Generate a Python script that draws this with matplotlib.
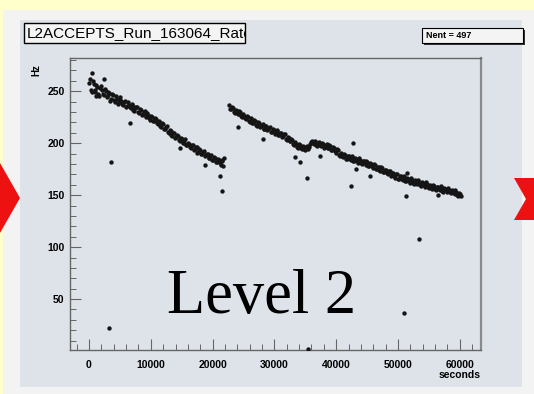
import matplotlib.pyplot as plt
import matplotlib.patches as mpatches
from matplotlib.ticker import MultipleLocator

# ---- data (seconds, Hz) ----
# first fill: before the gap
x_fill1 = [0, 300, 600, 900, 1200, 1500, 1800, 2100, 2400, 2700, 3000, 3300, 3600, 3900,
           4200, 4500, 4800, 5100, 5400, 5700, 6000, 6300, 6600, 6900, 7200, 7500, 7800,
           8100, 8400, 8700, 9000, 9300, 9600, 9900, 10200, 10500, 10800, 11100, 11400,
           11700, 12000, 12300, 12600, 12900, 13200, 13500, 13800, 14100, 14400, 14700,
           15000, 15300, 15600, 15900, 16200, 16500, 16800, 17100, 17400, 17700, 18000,
           18300, 18600, 18900, 19200, 19500, 19800, 20100, 20400, 20700, 21000, 21300,
           21600, 21900]
y_fill1 = [258, 251, 260, 251, 256, 247, 253, 251, 246, 250, 246, 248, 243, 246,
           240, 243, 240, 244, 238, 240, 235, 240, 235, 238, 232, 234, 235,
           229, 232, 228, 231, 225, 227, 222, 225.5, 221.5, 223.5, 218.5, 220,
           216, 218.6, 214, 216.7, 210.3, 212, 206.5, 210, 205.6, 207.4, 202.2,
           204, 199.9, 203.7, 198.5, 199.3, 195, 198, 194.1, 196.1, 191.1, 193.2,
           189.2, 192.2, 188.2, 189.2, 185.3, 188.4, 183.5, 185.6, 181.7, 183.8, 179,
           183.3, 185.5]
x_fill1b = [150, 450, 750, 1050, 1350, 1650, 1950, 2250, 2550, 2850, 3150, 3450, 3750,
            4050, 4350, 4650, 4950, 5250, 5550, 5850, 6150, 6450, 6750, 7050, 7350, 7650,
            7950, 8250, 8550, 8850, 9150, 9450, 9750, 10050, 10350, 10650, 10950, 11250,
            11550, 11850, 12150, 12450, 12750, 13050, 13350, 13650, 13950, 14250, 14550,
            14850, 15150, 15450, 15750, 16050, 16350, 16650, 16950, 17250, 17550, 17850,
            18150, 18450, 18750, 19050, 19350, 19650, 19950, 20250, 20550, 20850, 21150,
            21450, 21750]
y_fill1b = [262, 249, 257, 249, 254, 245, 255, 247, 252, 244, 249, 241, 247,
            242, 245, 238, 242, 241, 237, 241, 236, 237, 234, 236, 231, 235,
            230, 233, 227, 230, 226, 229, 224, 226, 221, 224, 219, 221,
            217, 219, 214, 216, 211, 213, 208, 210, 205, 208, 203,
            205, 200, 203, 198, 200, 196, 198, 193, 196, 191, 194,
            190, 192, 188, 190, 186, 188, 184, 187, 182, 185, 181,
            184, 178]

# second fill: after the gap
x_fill2 = [22700, 23000, 23300, 23600, 23900, 24200, 24500, 24800, 25100, 25400, 25700,
           26000, 26300, 26600, 26900, 27200, 27500, 27800, 28100, 28400, 28700, 29000,
           29300, 29600, 29900, 30200, 30500, 30800, 31100, 31400, 31700, 32000, 32300,
           32600, 32900, 33200, 33500, 33800, 34100, 34400, 34700, 35000, 35300, 35600,
           35900, 36200, 36500, 36800, 37100, 37400, 37700, 38000, 38300, 38600, 38900,
           39200, 39500, 39800, 40100, 40400, 40700, 41000, 41300, 41600, 41900, 42200,
           42500, 42800, 43100, 43400, 43700, 44000, 44300, 44600, 44900, 45200, 45500,
           45800, 46100, 46400, 46700, 47000, 47300, 47600, 47900, 48200, 48500, 48800,
           49100, 49400, 49700, 50000, 50300, 50600, 50900, 51200, 51500, 51800, 52100,
           52400, 52700, 53000, 53300, 53600, 53900, 54200, 54500, 54800, 55100, 55400,
           55700, 56000, 56300, 56600, 56900, 57200, 57500, 57800, 58100, 58400, 58700,
           59000, 59300, 59600, 59900, 60200]
y_fill2 = [237, 232.5, 234, 229, 231, 228, 230, 225, 226.5, 223.5, 225,
           220, 222.4, 219.6, 221.8, 217, 219.3, 216.5, 218.7, 214, 216.3, 213.5,
           215.7, 210.8, 213, 210.2, 212.4, 207.6, 209.8, 207, 208.7, 203.4, 205,
           201.8, 203.4, 198, 199.7, 195.4, 198, 194.8, 196.5, 193.3, 197, 196,
           201, 200, 202.5, 198, 200.5, 198, 200.4, 195.8, 198.3, 195.7, 198.1,
           193.6, 196, 192.7, 194.4, 189, 190.7, 187.4, 189.6, 185, 187.5, 185,
           187.5, 183, 185.5, 182.9, 185.4, 180.8, 183.3, 180.7, 183.2, 178.5, 180.7,
           177.8, 180, 175.2, 177.4, 174.6, 176.8, 172, 174.2, 171.4, 173.7, 168.9,
           171.1, 168.3, 170.6, 165.8, 168, 165.6, 168.1, 163.7, 166.3, 163.9, 166.4,
           162, 164.6, 162.2, 164.6, 160, 162.5, 159.9, 162.3, 157.8, 160.2, 157.6,
           160, 155.7, 158.3, 156, 158.7, 154.3, 157, 154.7, 157.3, 153, 155.2,
           152.5, 154.7, 150, 152.2, 149.5]
x_fill2b = [22850, 23150, 23450, 23750, 24050, 24350, 24650, 24950, 25250, 25550,
            25850, 26150, 26450, 26750, 27050, 27350, 27650, 27950, 28250, 28550,
            28850, 29150, 29450, 29750, 30050, 30350, 30650, 30950, 31250, 31550,
            31850, 32150, 32450, 32750, 33050, 33350, 33650, 33950, 34250, 34550,
            34850, 35150, 35450, 35750, 36050, 36350, 36650, 36950, 37250, 37550,
            37850, 38150, 38450, 38750, 39050, 39350, 39650, 39950, 40250, 40550,
            40850, 41150, 41450, 41750, 42050, 42350, 42650, 42950, 43250, 43550,
            43850, 44150, 44450, 44750, 45050, 45350, 45650, 45950, 46250, 46550,
            46850, 47150, 47450, 47750, 48050, 48350, 48650, 48950, 49250, 49550,
            49850, 50150, 50450, 50750, 51050, 51350, 51650, 51950, 52250, 52550,
            52850, 53150, 53450, 53750, 54050, 54350, 54650, 54950, 55250, 55550,
            55850, 56150, 56450, 56750, 57050, 57350, 57650, 57950, 58250, 58550,
            58850, 59150, 59450, 59750, 60050]
y_fill2b = [233, 235, 230, 232, 228, 231, 226, 228, 224, 226,
            221, 224, 219, 222, 218, 220, 216, 218, 214, 217,
            213, 215, 211, 214, 209, 212, 208, 210, 206, 209,
            204, 206, 202, 204, 199, 201, 196, 199, 195, 197,
            194, 196, 194, 199, 202, 199, 201, 197, 201, 197,
            199, 196, 199, 195, 197, 193, 195, 191, 193, 188,
            190, 187, 189, 185, 188, 184, 186, 183, 185, 181,
            184, 180, 183, 179, 182, 178, 180, 176, 179, 175,
            177, 173, 176, 172, 174, 170, 173, 169, 171, 167,
            170, 166, 168, 165, 167, 164, 166, 162, 165, 161,
            164, 161, 163, 159, 162, 158, 161, 157, 159, 156,
            159, 155, 158, 155, 157, 153, 156, 153, 155, 152,
            154, 151, 153, 149, 151]

# stray points away from the band
x_odd = [3240, 35400, 50950, 53400, 3500, 21550, 21200, 14750, 6650, 24100, 28200,
         33300, 34200, 35200, 37300, 42400, 42800, 43200, 45400, 51300, 56500, 51500,
         18770, 500, 2400, 1200]
y_odd = [22, 2, 37, 108, 182, 154, 168, 195, 219, 216, 204,
         187, 182, 167, 188, 159, 200, 175, 168, 149, 150, 171,
         179, 268, 262, 245]

hist_title = "L2ACCEPTS_Run_163064_Rate"
stat_text = "Nent = 497"

W, H = 534, 394
fig = plt.figure(figsize=(W / 100, H / 100), dpi=100)
fig.patch.set_facecolor("#ffffcc")


def fx(px):
    return px / W


def fy(py):
    return 1 - py / H


def box(x0, y0, x1, y1, **kw):
    # rectangle given in picture pixels (top-left origin)
    r = mpatches.Rectangle((fx(x0), fy(y1)), fx(x1) - fx(x0), fy(y0) - fy(y1),
                           transform=fig.transFigure, **kw)
    fig.patches.append(r)
    return r


# slide panels
box(3, 10, 534, 394, facecolor="#f3f3f3", edgecolor="none", zorder=-2)
box(20, 20, 522, 387, facecolor="#dde3e9", edgecolor="none", zorder=-1)

# red arrows at the sides
left_arrow = mpatches.Polygon([(fx(0), fy(163)), (fx(20), fy(198)), (fx(0), fy(233))],
                              closed=True, transform=fig.transFigure,
                              facecolor="#ee1111", edgecolor="none", zorder=1)
right_arrow = mpatches.Polygon([(fx(514), fy(178)), (fx(534), fy(178)), (fx(534), fy(220)),
                                (fx(514), fy(220)), (fx(526), fy(199))],
                               closed=True, transform=fig.transFigure,
                               facecolor="#ee1111", edgecolor="none", zorder=1)
fig.patches.extend([left_arrow, right_arrow])

# plot frame
ax = fig.add_axes([fx(70), fy(350), fx(481) - fx(70), fy(58) - fy(350)])
ax.set_zorder(2)
ax.set_facecolor("#dde3e9")
for xs, ys in [(x_fill1, y_fill1), (x_fill1b, y_fill1b), (x_fill2, y_fill2),
               (x_fill2b, y_fill2b), (x_odd, y_odd)]:
    ax.scatter(xs, ys, s=10, color="#151515", linewidths=0, zorder=3)

ax.set_xlim(-3070, 63430)
ax.set_ylim(1, 282)
ax.xaxis.set_major_locator(MultipleLocator(10000))
ax.xaxis.set_minor_locator(MultipleLocator(2000))
ax.yaxis.set_major_locator(MultipleLocator(50))
ax.yaxis.set_minor_locator(MultipleLocator(10))
ax.tick_params(which="major", direction="in", length=8, width=0.8, color="#666666",
               labelsize=7.5, pad=4)
ax.tick_params(axis="x", which="major", pad=7)
ax.tick_params(which="minor", direction="in", length=4, width=0.7, color="#666666")
for lab in ax.get_xticklabels() + ax.get_yticklabels():
    lab.set_fontfamily("Liberation Sans")
    lab.set_fontweight("bold")
for sp in ax.spines.values():
    sp.set_color("#666666")
    sp.set_linewidth(1)
ax.spines["right"].set_linewidth(1.6)
ax.spines["right"].set_color("#8a8a8a")

fig.text(fx(481), fy(375), "seconds", ha="right", va="center", fontsize=7.5,
         family="Liberation Sans", weight="bold", zorder=3)
fig.text(fx(36), fy(70), "Hz", ha="center", va="center", rotation=90, fontsize=7,
         family="Liberation Sans", weight="bold", zorder=3)

# title box, text clipped at the right edge like in the picture
tbox = box(24, 23, 245, 43, facecolor="#f4f4f4", edgecolor="black", linewidth=1, zorder=4)
t = fig.text(fx(27), fy(33.5), hist_title, ha="left", va="center", fontsize=11,
             family="Liberation Sans", zorder=5)
t.set_clip_path(tbox)

# stats box with shadow
box(424, 30, 525, 45, facecolor="#333333", edgecolor="none", zorder=4)
box(422, 28, 523, 43, facecolor="#f4f4f4", edgecolor="black", linewidth=0.8, zorder=5)
fig.text(fx(426), fy(35.5), stat_text, ha="left", va="center", fontsize=6.5,
         family="Liberation Sans", weight="bold", zorder=6)

fig.text(fx(262), fy(313), "Level 2", ha="center", va="baseline", fontsize=45,
         family="Liberation Serif", zorder=6)

fig.savefig("out.png", dpi=100, facecolor=fig.get_facecolor())
